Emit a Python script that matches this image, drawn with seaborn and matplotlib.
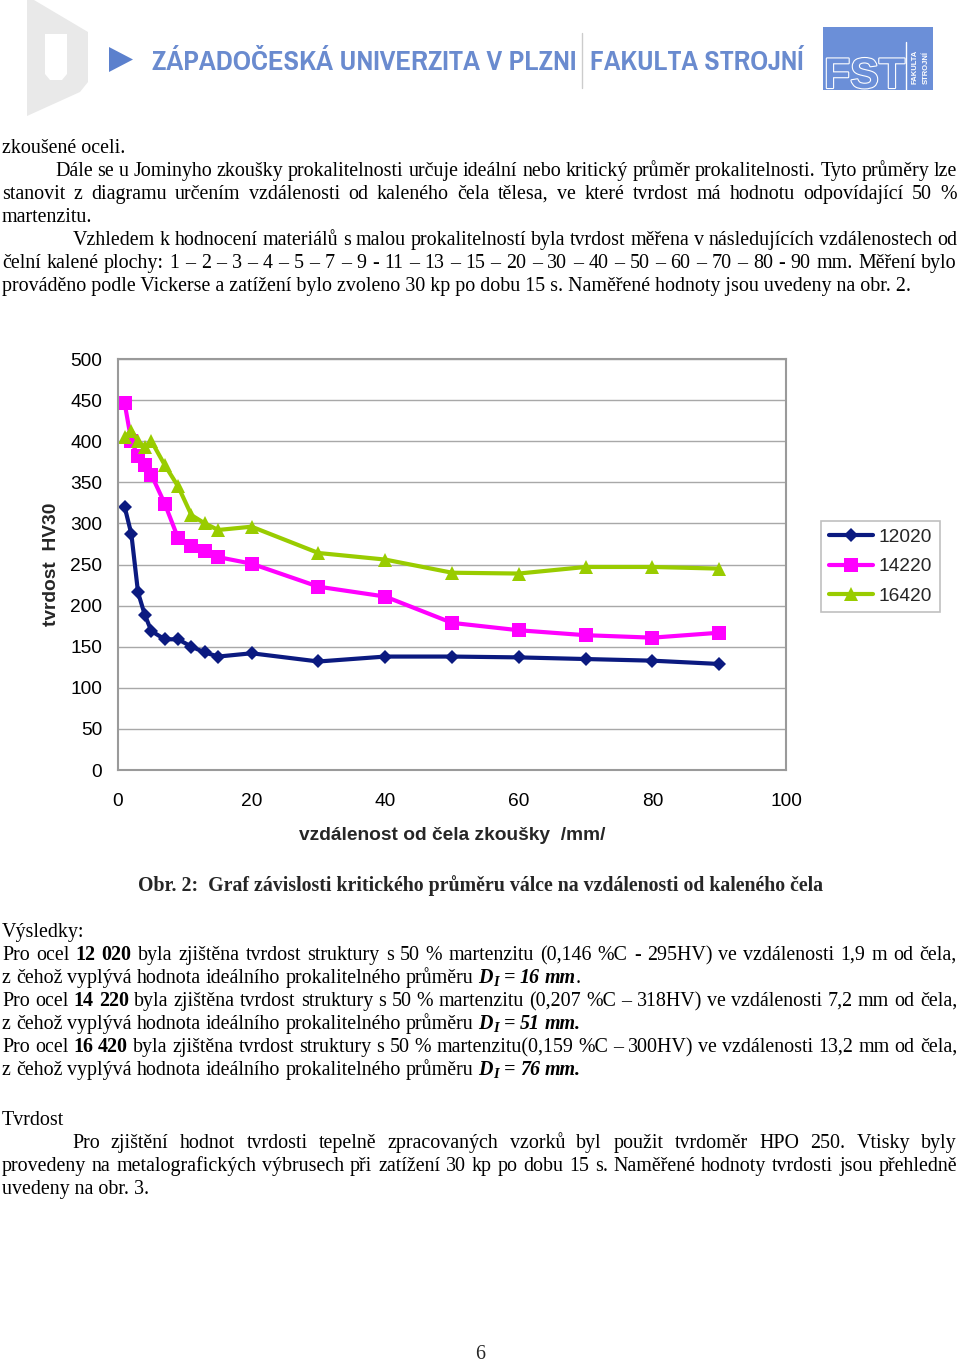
import re
import pandas as pd
import seaborn as sns
import matplotlib
matplotlib.use('Agg')
import matplotlib.pyplot as plt
import matplotlib.patheffects as pe
from matplotlib.font_manager import fontManager, FontProperties
from matplotlib.patches import Polygon, Rectangle

# data
dist = [1, 2, 3, 4, 5, 7, 9, 11, 13, 15, 20, 30, 40, 50, 60, 70, 80, 90]
hv_12020 = [320, 287, 216, 189, 169, 159, 159, 150, 143, 138, 142, 132, 138, 138, 137, 135, 133, 129]
hv_14220 = [446, 400, 382, 371, 359, 324, 282, 272, 266, 259, 251, 223, 211, 179, 170, 164, 161, 167]
hv_16420 = [405, 413, 400, 393, 400, 371, 345, 310, 300, 292, 296, 264, 256, 240, 239, 247, 247, 245]
series_names = ['12020', '14220', '16420']
series_colors = ['#0b1a80', '#ff00ff', '#99cc00']
series_markers = ['D', 's', '^']
marker_sizes = [7.5, 9.5, 10.5]
y_ticks = [0, 50, 100, 150, 200, 250, 300, 350, 400, 450, 500]
x_ticks = [0, 20, 40, 60, 80, 100]

df = pd.DataFrame({
    'dist': dist * 3,
    'hv': hv_12020 + hv_14220 + hv_16420,
    'ocel': [n for n in series_names for _ in dist],
})

sns.set_theme(style='white')
plt.rcParams['font.family'] = ['Liberation Sans', 'DejaVu Sans']

W, H = 960, 1364
fig = plt.figure(figsize=(W / 100, H / 100), dpi=100)
page = fig.add_axes([0, 0, 1, 1])
page.set_xlim(0, W)
page.set_ylim(H, 0)
page.axis('off')
renderer = fig.canvas.get_renderer()

HEAD = 'ZÁPADOČESKÁ UNIVERZITA V PLZNI'


def text_width(s, prop, size=20):
    t = page.text(0, 0, s, fontproperties=prop)
    t.set_fontsize(size)
    w = t.get_window_extent(renderer).width
    t.remove()
    return w


# choose a bold sans face whose width at ~22 pt comes closest to the header box
BOLD = ('bold', 'semibold', 'demibold', 'demi', 'heavy', 'extra bold', 'black')
cands = [FontProperties(family='Liberation Sans', weight='bold')]
for f in fontManager.ttflist:
    low = (f.name + f.fname).lower()
    heavy = (isinstance(f.weight, int) and f.weight >= 600) or str(f.weight).lower() in BOLD
    if ('narrow' in low or 'condensed' in low) and heavy and 'serif' not in f.name.lower() \
            and 'mono' not in low and 'italic' not in low and 'oblique' not in low:
        cands.append(FontProperties(fname=f.fname))
HEAD_FONT = min(cands, key=lambda p: abs(20 * 423 / text_width(HEAD, p) - 22))

SERIF = ['Liberation Serif', 'DejaVu Serif']
BLUE = '#6a8bcf'


def fit_text(s, x0, x1, y, color, prop, size=20):
    t = page.text(x0, y, s, fontproperties=prop, color=color, ha='left', va='baseline')
    t.set_fontsize(size)
    w = t.get_window_extent(renderer).width
    t.set_fontsize(size * (x1 - x0) / w)
    return t


# ---- header ----
page.add_patch(Polygon([(27, 0), (34, 0), (88, 32), (88, 82), (80, 92), (27, 116)],
                       closed=True, fc='#e9e9e9', ec='none'))
page.add_patch(Polygon([(45, 34), (67, 34), (67, 74), (62, 80), (50, 80), (45, 74)],
                       closed=True, fc='white', ec='none'))
page.add_patch(Polygon([(109, 47), (109, 72), (133, 59.5)], closed=True, fc='#5b80cd', ec='none'))
fit_text(HEAD, 152, 575, 70, BLUE, HEAD_FONT)
page.plot([582, 582], [33, 88], color='#cccccc', lw=1)
fit_text('FAKULTA STROJNÍ', 590, 803, 70, BLUE, HEAD_FONT)

LOGO = '#6b8fd8'
page.add_patch(Rectangle((823, 27), 110, 63, fc=LOGO, ec='none'))
fst = fit_text('FST', 824, 905, 88, LOGO, FontProperties(family='Liberation Sans', weight='bold'),
               size=40)
fst.set_path_effects([pe.withStroke(linewidth=1.6, foreground='white')])
page.plot([906, 906], [42, 90], color='white', lw=1)
page.text(915, 67, 'FAKULTA', rotation=90, fontsize=5.5, color='white', fontweight='bold',
          ha='center', va='center')
page.text(926, 67, 'STROJNÍ', rotation=90, fontsize=5.5, color='white', fontweight='bold',
          ha='center', va='center')

# ---- body text ----
FS = 13.0
probe = page.text(0, 0, 'prováděno podle Vickerse a zatížení bylo zvoleno 30 kp po dobu 15 s. '
                  'Naměřené hodnoty jsou uvedeny na obr. 2.', fontsize=FS, family=SERIF)
FS = FS * 905 / probe.get_window_extent(renderer).width
probe.remove()
BASE = 5  # baseline offset below the visual line centre

STYLES = {
    'n': dict(fontweight='normal', fontstyle='normal'),
    'b': dict(fontweight='bold', fontstyle='normal'),
    'bi': dict(fontweight='bold', fontstyle='italic'),
    'sub': dict(fontweight='bold', fontstyle='italic'),
}


def tokens(segs):
    out = []
    gap = False
    for text, st in segs:
        for piece in re.split(r'(\s+)', text):
            if not piece:
                continue
            if piece.isspace():
                gap = True
                continue
            out.append((piece, st, gap))
            gap = False
    return out


def draw_line(y, segs, x0, x1=None):
    if isinstance(segs, str):
        if x1 is None:
            page.text(x0, y + BASE, segs, fontsize=FS, family=SERIF, va='baseline', ha='left',
                      color='black')
            return
        segs = [(segs, 'n')]
    toks = tokens(segs)
    arts, widths = [], []
    for word, st, _ in toks:
        fs = FS * (0.72 if st == 'sub' else 1.0)
        dy = 3 if st == 'sub' else 0
        t = page.text(0, y + BASE + dy, word, fontsize=fs, family=SERIF, va='baseline',
                      ha='left', color='black', **STYLES[st])
        arts.append(t)
        widths.append(t.get_window_extent(renderer).width)
    ngaps = sum(1 for i, tk in enumerate(toks) if i > 0 and tk[2])
    space = FS * 100 / 72 * 0.25
    if x1 is not None and ngaps:
        space = (x1 - x0 - sum(widths)) / ngaps
    x = x0
    for i, (t, w) in enumerate(zip(arts, widths)):
        if i > 0 and toks[i][2]:
            x += space
        t.set_x(x)
        x += w


RM = 957
draw_line(148, 'zkoušené oceli.', 2)
draw_line(171, 'Dále se u Jominyho zkoušky prokalitelnosti určuje ideální nebo kritický průměr '
          'prokalitelnosti. Tyto průměry lze', 55, RM)
draw_line(194, 'stanovit z diagramu určením vzdálenosti od kaleného čela tělesa, ve které tvrdost '
          'má hodnotu odpovídající 50 %', 2, RM)
draw_line(217, 'martenzitu.', 2)
draw_line(240, 'Vzhledem k hodnocení materiálů s malou prokalitelností byla tvrdost měřena v '
          'následujících vzdálenostech od', 73, RM)
draw_line(263, 'čelní kalené plochy: 1 – 2 – 3 – 4 – 5 – 7 – 9 - 11 – 13 – 15 – 20 – 30 – 40 – 50 '
          '– 60 – 70 – 80 - 90 mm. Měření bylo', 2, RM)
draw_line(286, 'prováděno podle Vickerse a zatížení bylo zvoleno 30 kp po dobu 15 s. Naměřené '
          'hodnoty jsou uvedeny na obr. 2.', 2)

cap = page.text(480, 886 + BASE, 'Obr. 2:  Graf závislosti kritického průměru válce na '
                'vzdálenosti od kaleného čela', fontsize=FS, family=SERIF, fontweight='bold',
                ha='center', va='baseline')
cap.set_fontsize(FS * 685 / cap.get_window_extent(renderer).width)

draw_line(932, 'Výsledky:', 2)
draw_line(955, [('Pro ocel ', 'n'), ('12 020', 'b'),
                (' byla zjištěna tvrdost struktury s 50 % martenzitu  (0,146 %C - 295HV) ve '
                 'vzdálenosti 1,9 m od čela,', 'n')], 2, RM)
draw_line(978, [('z čehož vyplývá hodnota ideálního prokalitelného průměru ', 'n'), ('D', 'bi'),
                ('I', 'sub'), (' = 16 mm', 'bi'), ('.', 'n')], 2)
draw_line(1001, [('Pro ocel ', 'n'), ('14 220', 'b'),
                 (' byla zjištěna tvrdost struktury s 50 % martenzitu (0,207 %C – 318HV)  ve '
                  'vzdálenosti 7,2 mm od čela,', 'n')], 2, RM)
draw_line(1024, [('z čehož vyplývá hodnota ideálního prokalitelného průměru  ', 'n'), ('D', 'bi'),
                 ('I', 'sub'), (' = 51 mm.', 'bi')], 2)
draw_line(1047, [('Pro ocel ', 'n'), ('16 420', 'b'),
                 (' byla zjištěna tvrdost struktury s 50 % martenzitu(0,159 %C – 300HV)  ve '
                  'vzdálenosti 13,2 mm od čela,', 'n')], 2, RM)
draw_line(1070, [('z čehož vyplývá hodnota ideálního prokalitelného průměru  ', 'n'), ('D', 'bi'),
                 ('I', 'sub'), (' = 76 mm.', 'bi')], 2)

draw_line(1120, 'Tvrdost', 2)
draw_line(1143, 'Pro zjištění hodnot tvrdosti tepelně zpracovaných vzorků byl použit tvrdoměr '
          'HPO 250. Vtisky byly', 72, RM)
draw_line(1166, 'provedeny na metalografických výbrusech při zatížení 30 kp po dobu 15 s. Naměřené '
          'hodnoty tvrdosti jsou přehledně', 2, RM)
draw_line(1189, 'uvedeny na obr. 3.', 2)

page.text(480, 1359, '6', fontsize=FS, family=SERIF, ha='center', va='baseline')

# ---- chart ----
L, R, T, B = 118, 786, 359, 770
ax = fig.add_axes([L / W, 1 - B / H, (R - L) / W, (B - T) / H])
sns.lineplot(data=df, x='dist', y='hv', hue='ocel', style='ocel',
             palette=dict(zip(series_names, series_colors)),
             markers=dict(zip(series_names, series_markers)), dashes=False,
             linewidth=3, markeredgewidth=0, ax=ax, legend=False)
for line, ms in zip(ax.lines, marker_sizes):
    line.set_markersize(ms)

ax.set_xlim(0, 100)
ax.set_ylim(0, 500)
ax.set_xticks(x_ticks)
ax.set_yticks(y_ticks)
ax.tick_params(length=0, labelsize=13.8, colors='black')
ax.tick_params(axis='y', pad=11.5)
ax.tick_params(axis='x', pad=16.5)
ax.grid(axis='y', color='#a8a8a8', lw=1)
ax.set_axisbelow(True)
for sp in ax.spines.values():
    sp.set_color('#9a9a9a')
    sp.set_linewidth(1.5)

ax.set_xlabel('vzdálenost od čela zkoušky  /mm/', fontsize=13.8, fontweight='bold', va='center')
ax.set_ylabel('tvrdost  HV30', fontsize=13.8, fontweight='bold', va='center')
ax.xaxis.set_label_coords(0.5, (B - 835) / (B - T))
ax.yaxis.set_label_coords((52 - L) / (R - L), 0.5)

leg = ax.legend(handles=ax.lines[:3], labels=series_names, loc='upper left',
                bbox_to_anchor=(821 / W, 1 - 521 / H), bbox_transform=fig.transFigure,
                frameon=True, fancybox=False, fontsize=13.8, handlelength=2.3,
                handletextpad=0.3, borderpad=0.4, labelspacing=0.62, borderaxespad=0)
leg.get_frame().set_edgecolor('#b0b0b0')
leg.get_frame().set_linewidth(1.2)

fig.savefig('out.png', dpi=100, facecolor='white')
